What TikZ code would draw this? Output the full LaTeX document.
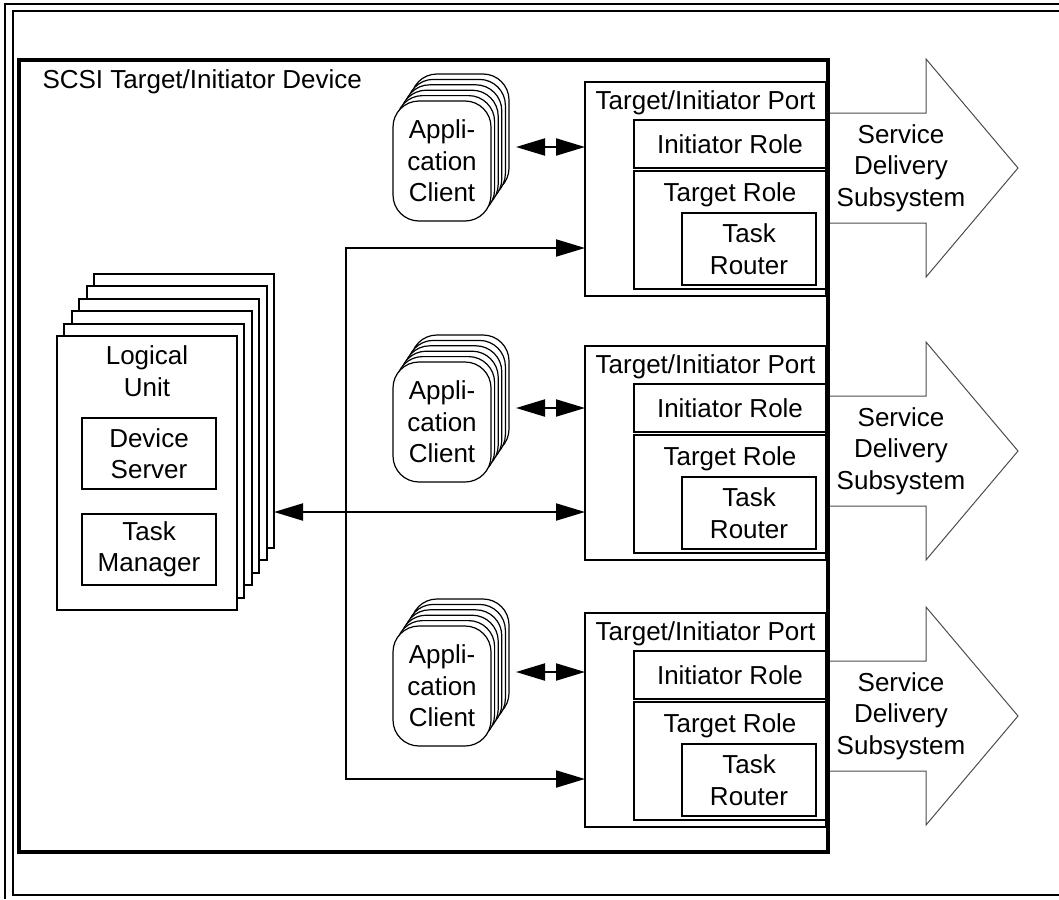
\documentclass[tikz,border=0pt]{standalone}
\usepackage{fontspec}
\setmainfont{Liberation Sans}
\usetikzlibrary{arrows.meta,positioning}
\newcommand\figfont{\fontsize{26}{31.5}\selectfont}
\tikzstyle{frame}=[line width=2pt]
\tikzstyle{device}=[
	rectangle,
	draw,
	line width=4pt,
	inner sep=0pt,
	anchor=north west,
	minimum width=809pt,
	minimum height=792pt
]
\tikzstyle{box}=[
	rectangle,
	draw,
	fill=white,
	line width=2pt,
	inner sep=0pt,
	outer sep=0pt,
	align=center
]
\tikzstyle{appcard}=[
	box,
	line width=1.2pt,
	rounded corners=26pt,
	anchor=north west,
	minimum width=98pt,
	minimum height=120pt
]
\tikzstyle{lucard}=[box, anchor=north west, minimum width=180pt, minimum height=274pt]
\tikzstyle{port}=[box, anchor=north west, minimum width=241pt, minimum height=214pt]
\tikzstyle{role}=[box, minimum width=192pt]
\tikzstyle{subbox}=[box, minimum width=134pt, minimum height=72pt]
\tikzstyle{link}=[
	line width=2pt,
	line join=miter,
	>={Triangle[length=29pt,width=17pt]}
]
\tikzstyle{sds}=[draw=black!70, line width=1pt, line join=miter]

\begin{document}
\begin{tikzpicture}[x=1pt, y=-1pt, font=\figfont]
\useasboundingbox (0,0) rectangle (1059,899);
% figure frame
\draw[frame] (5,899) -- (5,4) -- (1059,4);
\draw[frame] (1059,11) -- (13,11) -- (13,895) -- (1059,895);

% logical unit stack
\foreach \k in {5,...,1}
	\node[lucard] (lu\k) at (57+7.4*\k,336-12.4*\k) {};
\node[lucard] (lu) at (57,336) {};
\node[align=center] (lul) at (147,371) {Logical\\Unit};
\node[subbox, minimum height=71pt, below right=82pt and 25pt of lu.north west] (ds) {Device\\Server};
\node[subbox, minimum height=71pt, below right=178pt and 25pt of lu.north west] (tm) {Task\\Manager};

% application clients, ports and service delivery subsystems
\foreach \n/\yc/\yp/\ys in {1/101/82/168, 2/362/346/451, 3/626/613/716}{
	\foreach \k in {5,...,1}
		\node[appcard] (cl\n-\k) at (393+3.6*\k,\yc-5.4*\k) {};
	\node[appcard] (cl\n) at (393,\yc) {Appli-\\cation\\Client};
	\node[port] (port\n) at (585,\yp) {};
	\node[anchor=base] (pl\n) at ([yshift=-27pt]port\n.north) {Target/Initiator Port};
	\node[role, minimum height=48pt, below right=38pt and 49pt of port\n.north west] (ir\n) {Initiator Role};
	\node[role, minimum height=118pt, below right=89pt and 49pt of port\n.north west] (tr\n) {};
	\node[anchor=base] (tl\n) at ([yshift=-30pt]tr\n.north) {Target Role};
	\node[subbox, below right=131pt and 97pt of port\n.north west] (rt\n) {Task\\Router};
	\draw[sds] (826,\ys-55) -- (926,\ys-55) -- (926,\ys-109) -- (1018,\ys)
		-- (926,\ys+109) -- (926,\ys+55) -- (826,\ys+55);
	\node[align=center] (sd\n) at (901,\ys) {Service\\Delivery\\Subsystem};
	\coordinate (cx\n) at (516,\yc+46);
	\draw[link,<->] (cx\n) -- (cx\n -| port\n.west);
	\coordinate (bus\n) at (346,\yp+166);
}
\draw[link,->] (bus2) -- (bus1) -- (bus1 -| port1.west);
\draw[link,->] (bus2) -- (bus3) -- (bus3 -| port3.west);
\draw[link,<->] (lu5.east |- bus2) -- (bus2 -| port2.west);

% device
\node[device] (device) at (17,58) {};
\node[anchor=base west] (devl) at (39,88) {SCSI Target/Initiator Device};
\end{tikzpicture}
\end{document}
